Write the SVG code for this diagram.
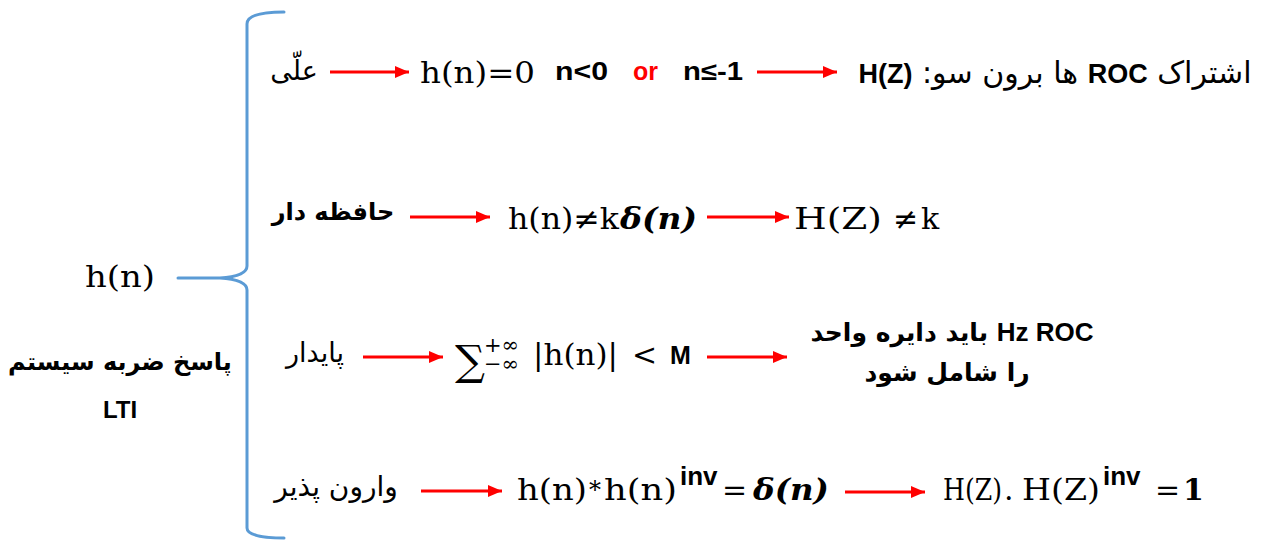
<svg xmlns="http://www.w3.org/2000/svg" width="1265" height="542" viewBox="0 0 1265 542">
<style>
.m{font-family:"DejaVu Serif","Liberation Serif",serif;font-size:30px;fill:#000}
.mbi{font-family:"DejaVu Serif","Liberation Serif",serif;font-size:30px;font-weight:bold;font-style:italic;fill:#000}
.fa{font-family:"DejaVu Sans",sans-serif;font-size:27px;fill:#000}
.fab{font-family:"DejaVu Sans",sans-serif;font-size:25px;font-weight:bold;fill:#000}
.b{font-family:"Liberation Sans",Arial,sans-serif;font-weight:bold;font-size:25px;fill:#000}
.arr{stroke:#FF0000;stroke-width:3;fill:none;marker-end:url(#ah)}
.brace{stroke:#5B9BD5;stroke-width:3;fill:none;stroke-linecap:round}
</style>
<defs>
<marker id="ah" markerUnits="userSpaceOnUse" markerWidth="14" markerHeight="12" refX="14" refY="6" orient="auto">
<path d="M0,0 L14,6 L0,12 z" fill="#FF0000"/>
</marker>
</defs>
<rect width="1265" height="542" fill="#fff"/>

<g id="root">
<path class="brace" d="M284,12 C262,12 247,15 247,24 L247,266 C247,274 235,277 220,278 L178,278 M220,278 C235,279 247,282 247,290 L247,528 C247,535 262,538 284,538"/>
<text class="m" x="85" y="287" textLength="70" lengthAdjust="spacingAndGlyphs">h(n)</text>
<text class="fab" x="120" y="370" text-anchor="middle" direction="rtl" style="font-size:24px">پاسخ ضربه سیستم</text>
<text class="b" x="120" y="418" text-anchor="middle" style="font-size:24px">LTI</text>
</g>

<g id="connectors">
<line class="arr" x1="330" y1="72" x2="409" y2="72"/>
<line class="arr" x1="757" y1="72" x2="837" y2="72"/>
<line class="arr" x1="410" y1="217" x2="490" y2="217"/>
<line class="arr" x1="707" y1="217" x2="789" y2="217"/>
<line class="arr" x1="363" y1="357" x2="443" y2="357"/>
<line class="arr" x1="707" y1="357" x2="787" y2="357"/>
<line class="arr" x1="421" y1="491" x2="502" y2="491"/>
<line class="arr" x1="845" y1="492" x2="925" y2="492"/>
</g>

<g id="causal">
<text class="fa" x="294" y="80" text-anchor="middle" direction="rtl">علّی</text>
<text class="m" x="420" y="83" textLength="115" lengthAdjust="spacingAndGlyphs">h(n)=0</text>
<text class="b" x="555" y="80" textLength="53" lengthAdjust="spacingAndGlyphs">n&lt;0</text>
<text class="b" x="633" y="80" style="fill:#FF0000">or</text>
<text class="b" x="683" y="80" textLength="60" lengthAdjust="spacingAndGlyphs">n≤-1</text>
<text class="fa" x="1055" y="83" text-anchor="middle" direction="rtl" style="font-size:30px">اشتراک <tspan class="b" style="font-size:27px">ROC</tspan> ها برون سو: <tspan class="b" style="font-size:27px">H(Z)</tspan></text>
</g>

<g id="memory">
<text class="fab" x="333" y="220" text-anchor="middle" direction="rtl" style="font-size:24px">حافظه دار</text>
<text class="m" x="508" y="229" textLength="111" lengthAdjust="spacingAndGlyphs">h(n)≠k</text>
<text class="mbi" x="620" y="229" textLength="77" lengthAdjust="spacingAndGlyphs">δ<tspan class="m">(</tspan>n<tspan class="m">)</tspan></text>
<text class="m" x="794" y="229" textLength="88" lengthAdjust="spacingAndGlyphs">H(Z)</text>
<text class="m" x="893" y="229">≠</text>
<text class="m" x="921" y="229">k</text>
</g>

<g id="stable">
<text class="fa" x="315" y="362" text-anchor="middle" direction="rtl">پایدار</text>
<text class="m" x="455" y="375" style="font-size:42px">∑</text>
<text class="m" x="484" y="352" style="font-size:21px">+∞</text>
<text class="m" x="484" y="371" style="font-size:21px">−∞</text>
<text class="m" x="533" y="365" textLength="85" lengthAdjust="spacingAndGlyphs">|h(n)|</text>
<text class="m" x="632" y="365">&lt;</text>
<text class="b" x="670" y="364">M</text>
<text class="fab" x="952" y="341" text-anchor="middle" direction="rtl"><tspan class="b" style="font-size:26px">Hz ROC</tspan> باید دایره واحد</text>
<text class="fab" x="947" y="381" text-anchor="middle" direction="rtl">را شامل شود</text>
</g>

<g id="invertible">
<text class="fa" x="336" y="496" text-anchor="middle" direction="rtl" style="font-size:28px">وارون پذیر</text>
<text class="m" x="517" y="500" textLength="70" lengthAdjust="spacingAndGlyphs">h(n)</text>
<text class="m" x="589" y="498" style="font-size:24px">*</text>
<text class="m" x="604" y="500" textLength="73" lengthAdjust="spacingAndGlyphs">h(n)</text>
<text class="b" x="680" y="485" style="font-size:26px">inv</text>
<text class="m" x="722" y="500">=</text>
<text class="mbi" x="753" y="500" textLength="76" lengthAdjust="spacingAndGlyphs">δ<tspan class="m">(</tspan>n<tspan class="m">)</tspan></text>
<text class="m" x="943" y="500" textLength="59" lengthAdjust="spacingAndGlyphs">H(Z)</text>
<text class="m" x="1004" y="500">.</text>
<text class="m" x="1022" y="500" textLength="78" lengthAdjust="spacingAndGlyphs">H(Z)</text>
<text class="b" x="1103" y="485" style="font-size:26px">inv</text>
<text class="m" x="1155" y="500">=</text>
<text class="m" x="1183" y="500" font-weight="bold">1</text>
</g>
</svg>
